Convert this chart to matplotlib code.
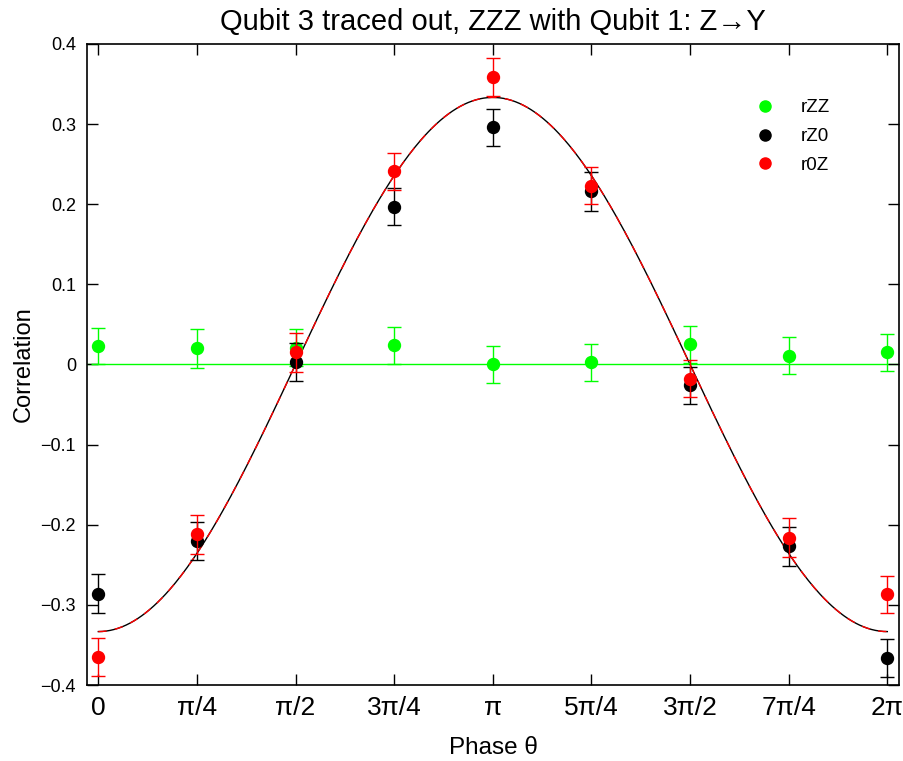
import numpy as np
import matplotlib
matplotlib.use("Agg")
import matplotlib.pyplot as plt
from matplotlib.lines import Line2D

plt.rcParams['font.family'] = ['Liberation Sans', 'DejaVu Sans']

# Data
phase = np.pi / 4 * np.arange(9)
tick_labels = ['0', 'π/4', 'π/2', '3π/4', 'π', '5π/4', '3π/2', '7π/4', '2π']

rZZ = [0.023, 0.020, 0.021, 0.024, 0.000, 0.003, 0.025, 0.011, 0.015]
rZZ_err = [0.023, 0.024, 0.023, 0.023, 0.023, 0.023, 0.023, 0.023, 0.023]

rZ0 = [-0.286, -0.220, 0.003, 0.197, 0.296, 0.216, -0.026, -0.227, -0.366]
rZ0_err = [0.024, 0.0235, 0.024, 0.023, 0.023, 0.024, 0.023, 0.024, 0.024]

r0Z = [-0.365, -0.212, 0.015, 0.241, 0.359, 0.223, -0.018, -0.216, -0.287]
r0Z_err = [0.024, 0.024, 0.024, 0.023, 0.024, 0.023, 0.023, 0.024, 0.023]

amplitude = -1.0 / 3.0  # theory curve amplitude

fig = plt.figure(figsize=(9.04, 7.61), dpi=100)
ax = fig.add_axes([87 / 904, 1 - 685 / 761, (899 - 87) / 904, (685 - 44) / 761])

th = np.linspace(0, 2 * np.pi, 400)
ax.axhline(0, color='#00ff00', lw=1.0, zorder=1)
ax.plot(th, amplitude * np.cos(th), color='black', lw=1.0, zorder=2)
ax.plot(th, amplitude * np.cos(th), color='red', lw=1.0, ls=(0, (6, 6)), zorder=2)

ms = 8.6
cap = 5
series = [(rZZ, rZZ_err, '#00ff00', 'rZZ'),
          (rZ0, rZ0_err, 'black', 'rZ0'),
          (r0Z, r0Z_err, 'red', 'r0Z')]
handles = []
for i, (vals, errs, col, lab) in enumerate(series):
    ax.errorbar(phase, vals, yerr=errs, fmt='o', color=col, ms=ms,
                capsize=cap, elinewidth=1.0, capthick=1.0, zorder=3 + i)
    handles.append(Line2D([], [], ls='none', marker='o', color=col, ms=8, label=lab))

ax.set_xlim(-0.09, 2 * np.pi + 0.093)
ax.set_ylim(-0.4, 0.4)
ax.set_xticks(phase)
ax.set_xticklabels(tick_labels, fontsize=19)
yt = np.round(np.arange(-0.4, 0.41, 0.1), 1)
ax.set_yticks(yt)
ax.set_yticklabels([f'{v:.1f}'.replace('-', '−') if abs(v) > 1e-9 else '0'
                    for v in yt], fontsize=13)
ax.tick_params(direction='in', length=8, width=1, top=True, right=True)
ax.tick_params(axis='x', pad=8)
ax.tick_params(axis='y', pad=8)
for s in ax.spines.values():
    s.set_linewidth(1.2)

ax.set_xlabel('Phase θ', fontsize=17.5, labelpad=12)
ax.set_ylabel('Correlation', fontsize=17, labelpad=4)
ax.set_title('Qubit 3 traced out, ZZZ with Qubit 1: Z→Y', fontsize=21, pad=10)

ax.legend(handles=handles, loc='upper left', bbox_to_anchor=(0.803, 0.94),
          frameon=False, fontsize=13.5, handletextpad=1.4, labelspacing=0.62,
          handlelength=1.0)

fig.savefig('out.png', dpi=100)
